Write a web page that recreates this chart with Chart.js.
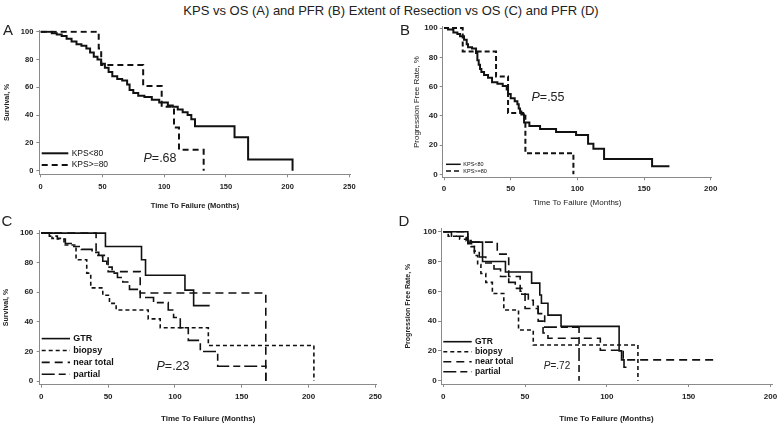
<!DOCTYPE html>
<html>
<head>
<meta charset="utf-8">
<script src="https://cdn.jsdelivr.net/npm/chart.js@4.4.1/dist/chart.umd.min.js"></script>
<style>
  html, body { margin: 0; padding: 0; background: #fff; }
  #page { position: relative; width: 782px; height: 428px; overflow: hidden;
          font-family: "Liberation Sans", Arial, sans-serif; color: #222; }
  canvas { position: absolute; }
  .txt { position: absolute; white-space: nowrap; line-height: 1; transform: translate(-50%, -50%); }
</style>
</head>
<body>
<div id="page">
  <div class="txt" style="left:391px; top:10px; font-size:13px;">KPS vs OS (A) and PFR (B) Extent of Resection vs OS (C) and PFR (D)</div>

  <canvas id="chartA" width="391" height="190" style="left:0px; top:22px;"></canvas>
  <canvas id="chartB" width="391" height="190" style="left:391px; top:20px;"></canvas>
  <canvas id="chartC" width="391" height="206" style="left:0px; top:222px;"></canvas>
  <canvas id="chartD" width="391" height="206" style="left:391px; top:222px;"></canvas>

  <div class="txt" style="left:8px; top:29px; font-size:15px;">A</div>
  <div class="txt" style="left:405px; top:29px; font-size:15px;">B</div>
  <div class="txt" style="left:7px; top:220px; font-size:15px;">C</div>
  <div class="txt" style="left:404px; top:220px; font-size:15px;">D</div>

  <div class="txt" style="left:160px; top:158px; font-size:12.5px;"><i>P</i>=.68</div>
  <div class="txt" style="left:548px; top:97px; font-size:12.5px;"><i>P</i>=.55</div>
  <div class="txt" style="left:173px; top:366px; font-size:12.5px;"><i>P</i>=.23</div>
  <div class="txt" style="left:557px; top:366px; font-size:10px;"><i>P</i>=.72</div>
</div>

<script>
// ---- data (months, percent) ----
const yTicks = [0, 20, 40, 60, 80, 100];
const xTicksWide = [0, 50, 100, 150, 200, 250];
const xTicksNarrow = [0, 50, 100, 150, 200];

// A: KPS vs overall survival
const aLowTime = [0, 9, 13, 17, 21, 25, 29, 33, 37, 40, 43, 46, 49, 52, 55, 58, 62, 66, 70, 72, 75, 79, 84, 90, 96, 103, 107, 111, 115, 119, 122, 125, 157, 168, 204];
const aLowSurv = [100, 99, 98, 97, 95, 93, 91, 90, 88, 85, 82, 80, 77, 74, 71, 68, 66, 65, 62, 58, 56, 54, 53, 51, 49, 47, 46, 44, 42, 40, 37, 32, 24, 8, 0];
const aHighTime = [0, 47, 49, 83, 98, 108, 112, 132];
const aHighSurv = [100, 88, 76, 61, 46, 31, 15, 0];

// B: KPS vs progression free rate
const bLowTime = [0, 3, 7, 10, 12, 15, 17, 18, 21, 24, 25, 26, 27, 28, 30, 33, 36, 40, 44, 47, 48, 50, 53, 55, 56, 57, 58, 60, 64, 72, 84, 99, 108, 112, 120, 156, 169];
const bLowPfr = [100, 99, 97, 96, 94.5, 92, 89, 87, 86, 83, 78, 75, 72, 70, 68, 66, 63, 62, 60.5, 58, 55, 52, 50, 48, 45, 43, 41, 35.5, 33, 31, 29, 27, 21, 17.5, 10.5, 5.5, 5.5];
const bHighTime = [0, 14, 39, 48, 61, 97];
const bHighPfr = [100, 84, 67, 42, 14.5, 0];

// C: extent of resection vs overall survival
const cGtrTime = [0, 48, 75, 78, 107.5, 114, 126];
const cGtrSurv = [100, 91, 82, 71.5, 61.5, 51, 51];
const cBiopsyTime = [0, 8, 17, 26, 34, 37, 46, 51, 56, 80, 89, 125, 204];
const cBiopsySurv = [100, 96.5, 92, 82, 73, 63, 58, 52.5, 48, 42, 36, 24, 0];
const cNearTime = [0, 41, 50, 74, 168];
const cNearSurv = [100, 85, 74, 59.5, 0];
const cPartialTime = [0, 6, 12, 18, 23, 30, 38, 43, 46, 49, 53, 57, 61, 66, 74, 84, 95, 99, 104, 110, 119, 132, 168];
const cPartialSurv = [100, 98, 96, 93, 91, 89, 87, 84, 81, 77, 73, 70, 67, 62, 56.5, 53, 48, 43, 36, 27.5, 20, 10, 0];

// D: extent of resection vs progression free rate
const dGtrTime = [0, 15, 24, 38, 54, 59, 60, 64, 72, 107.5, 109, 110.5, 112];
const dGtrPfr = [100, 93, 80, 73, 65.5, 57.5, 52, 44, 36.5, 20, 14, 9, 9];
const dBiopsyTime = [0, 3, 14, 17, 19, 21, 23, 26, 30, 37, 46, 55, 119];
const dBiopsyPfr = [100, 97, 94, 90, 84, 78, 72, 66, 58.5, 47.5, 34, 24, 0];
const dNearTime = [0, 15, 33, 40, 47, 50, 58, 61, 64, 96, 110, 167];
const dNearPfr = [100, 93, 85, 70, 60, 48.5, 40, 32, 28.5, 20.5, 14, 14];
const dPartialTime = [0, 5, 10, 15, 19, 22, 26, 31, 35, 40, 44, 48, 52, 55, 58, 62, 83];
const dPartialPfr = [100, 97, 95, 92, 87, 83, 79, 75, 70, 66, 62, 58, 54, 50, 45, 36, 0];

const FONT = '"Liberation Sans", Arial, sans-serif';
const INK = '#111';

function pts(times, values) {
    return times.map((t, i) => ({ x: t, y: values[i] }));
}

function series(label, times, values, dash, width) {
    return {
        label: label,
        data: pts(times, values),
        borderColor: INK,
        borderWidth: width,
        borderDash: dash,
        stepped: true,
        pointRadius: 0,
        fill: false
    };
}

// legend drawn inside the plot, bottom left, like the Stata output
const insideLegend = {
    id: 'insideLegend',
    afterDatasetsDraw(chart, args, opts) {
        const ctx = chart.ctx;
        const area = chart.chartArea;
        const sets = chart.data.datasets;
        ctx.save();
        ctx.font = opts.font;
        ctx.textBaseline = 'middle';
        ctx.fillStyle = INK;
        sets.forEach((ds, i) => {
            const y = area.bottom - opts.bottom - (sets.length - 1 - i) * opts.gap;
            ctx.beginPath();
            ctx.setLineDash(ds.borderDash || []);
            ctx.lineWidth = opts.lineWidth;
            ctx.strokeStyle = INK;
            ctx.moveTo(area.left + opts.x0, y);
            ctx.lineTo(area.left + opts.x1, y);
            ctx.stroke();
            ctx.setLineDash([]);
            ctx.fillText(ds.label, area.left + opts.textX, y);
        });
        ctx.restore();
    }
};

function buildPanel(id, p) {
    const ctx = document.getElementById(id).getContext('2d');
    return new Chart(ctx, {
        type: 'line',
        data: { datasets: p.datasets },
        options: {
            responsive: false,
            animation: false,
            events: [],
            layout: { padding: { left: 0, top: p.padTop, right: p.padRight, bottom: 0 } },
            plugins: {
                legend: { display: false },
                tooltip: { enabled: false },
                insideLegend: p.legend
            },
            scales: {
                x: {
                    type: 'linear',
                    min: p.xMin,
                    max: p.xMax,
                    afterBuildTicks: s => { s.ticks = p.xTicks.map(v => ({ value: v })); },
                    afterFit: s => { s.height = p.xAxisHeight; },
                    border: { display: true, color: '#8a8a8a', width: 1 },
                    grid: { drawOnChartArea: false, drawTicks: true, tickLength: 3, color: '#8a8a8a' },
                    ticks: {
                        autoSkip: false, maxRotation: 0, padding: p.xTickPad, color: '#222',
                        font: { family: FONT, size: p.tickSize, weight: 'bold' }
                    },
                    title: {
                        display: true, text: 'Time To Failure (Months)', color: '#222',
                        padding: { top: 0, bottom: p.xTitlePad },
                        font: { family: FONT, size: p.xTitleSize, weight: p.xTitleWeight }
                    }
                },
                y: {
                    type: 'linear',
                    min: p.yMin,
                    max: p.yMax,
                    afterBuildTicks: s => { s.ticks = yTicks.map(v => ({ value: v })); },
                    afterFit: s => { s.width = p.yAxisWidth; },
                    border: { display: true, color: '#8a8a8a', width: 1 },
                    grid: { drawOnChartArea: false, drawTicks: true, tickLength: 3, color: '#8a8a8a' },
                    ticks: {
                        padding: p.yTickPad, color: '#222',
                        font: { family: FONT, size: p.tickSize, weight: 'bold' }
                    },
                    title: {
                        display: true, text: p.yTitle, color: '#222',
                        padding: { top: p.yTitlePad, bottom: 0 },
                        font: { family: FONT, size: p.yTitleSize, weight: p.yTitleWeight }
                    }
                }
            }
        },
        plugins: [insideLegend]
    });
}

const dashKps = [6, 4];
const dashBiopsy = [4, 3];
const dashNear = [8, 5];
const dashPartial = [13, 4, 7, 4];

buildPanel('chartA', {
    datasets: [
        series('KPS<80', aLowTime, aLowSurv, [], 2),
        series('KPS>=80', aHighTime, aHighSurv, dashKps, 2)
    ],
    xTicks: xTicksWide, xMin: -1.13, xMax: 251.1, yMin: -2.6, yMax: 100.9,
    padTop: 8.5, padRight: 40.3, yAxisWidth: 39.3, xAxisHeight: 37.7,
    tickSize: 7.5, xTickPad: 5, yTickPad: 3,
    xTitleSize: 7.5, xTitleWeight: 'bold', xTitlePad: 1.8,
    yTitle: 'Survival, %', yTitleSize: 7, yTitleWeight: 'bold', yTitlePad: 3.1,
    legend: { font: '8.5px ' + FONT, bottom: 9.3, gap: 11.7, x0: 2.4, x1: 29, textX: 32.4, lineWidth: 2 }
});

buildPanel('chartB', {
    datasets: [
        series('KPS<80', bLowTime, bLowPfr, [], 2),
        series('KPS>=80', bHighTime, bHighPfr, [5, 3], 2)
    ],
    xTicks: xTicksNarrow, xMin: -1.0, xMax: 200.7, yMin: -2.0, yMax: 100.9,
    padTop: 4.7, padRight: 70.3, yAxisWidth: 51.7, xAxisHeight: 32.7,
    tickSize: 8, xTickPad: 3.2, yTickPad: 2,
    xTitleSize: 8, xTitleWeight: 'normal', xTitlePad: 2.5,
    yTitle: 'Progression Free Rate, %', yTitleSize: 8, yTitleWeight: 'normal', yTitlePad: 20.9,
    legend: { font: '5.5px ' + FONT, bottom: 6.3, gap: 6.7, x0: 3.3, x1: 18, textX: 20.6, lineWidth: 1.5 }
});

buildPanel('chartC', {
    datasets: [
        series('GTR', cGtrTime, cGtrSurv, [], 1.6),
        series('biopsy', cBiopsyTime, cBiopsySurv, dashBiopsy, 1.6),
        series('near total', cNearTime, cNearSurv, dashNear, 1.6),
        series('partial', cPartialTime, cPartialSurv, dashPartial, 1.6)
    ],
    xTicks: xTicksWide, xMin: -1.2, xMax: 251, yMin: -2.5, yMax: 102,
    padTop: 6, padRight: 14.3, yAxisWidth: 39.7, xAxisHeight: 43.3,
    tickSize: 8, xTickPad: 4.2, yTickPad: 3.4,
    xTitleSize: 8, xTitleWeight: 'bold', xTitlePad: 4.2,
    yTitle: 'Survival, %', yTitleSize: 7, yTitleWeight: 'bold', yTitlePad: 1.8,
    legend: { font: 'bold 9px ' + FONT, bottom: 10.4, gap: 11.9, x0: 2, x1: 30.3, textX: 33.6, lineWidth: 1.6 }
});

buildPanel('chartD', {
    datasets: [
        series('GTR', dGtrTime, dGtrPfr, [], 1.6),
        series('biopsy', dBiopsyTime, dBiopsyPfr, dashBiopsy, 1.6),
        series('near total', dNearTime, dNearPfr, dashNear, 1.6),
        series('partial', dPartialTime, dPartialPfr, dashPartial, 1.6)
    ],
    xTicks: xTicksNarrow, xMin: -1.4, xMax: 201, yMin: -2.2, yMax: 102.3,
    padTop: 6.3, padRight: 3.7, yAxisWidth: 50, xAxisHeight: 44,
    tickSize: 8, xTickPad: 4.9, yTickPad: 1.3,
    xTitleSize: 8, xTitleWeight: 'bold', xTitlePad: 4.2,
    yTitle: 'Progression Free Rate, %', yTitleSize: 7, yTitleWeight: 'bold', yTitlePad: 13.1,
    legend: { font: 'bold 8.5px ' + FONT, bottom: 12.3, gap: 10, x0: 2.3, x1: 30.7, textX: 34, lineWidth: 1.6 }
});
</script>
</body>
</html>
